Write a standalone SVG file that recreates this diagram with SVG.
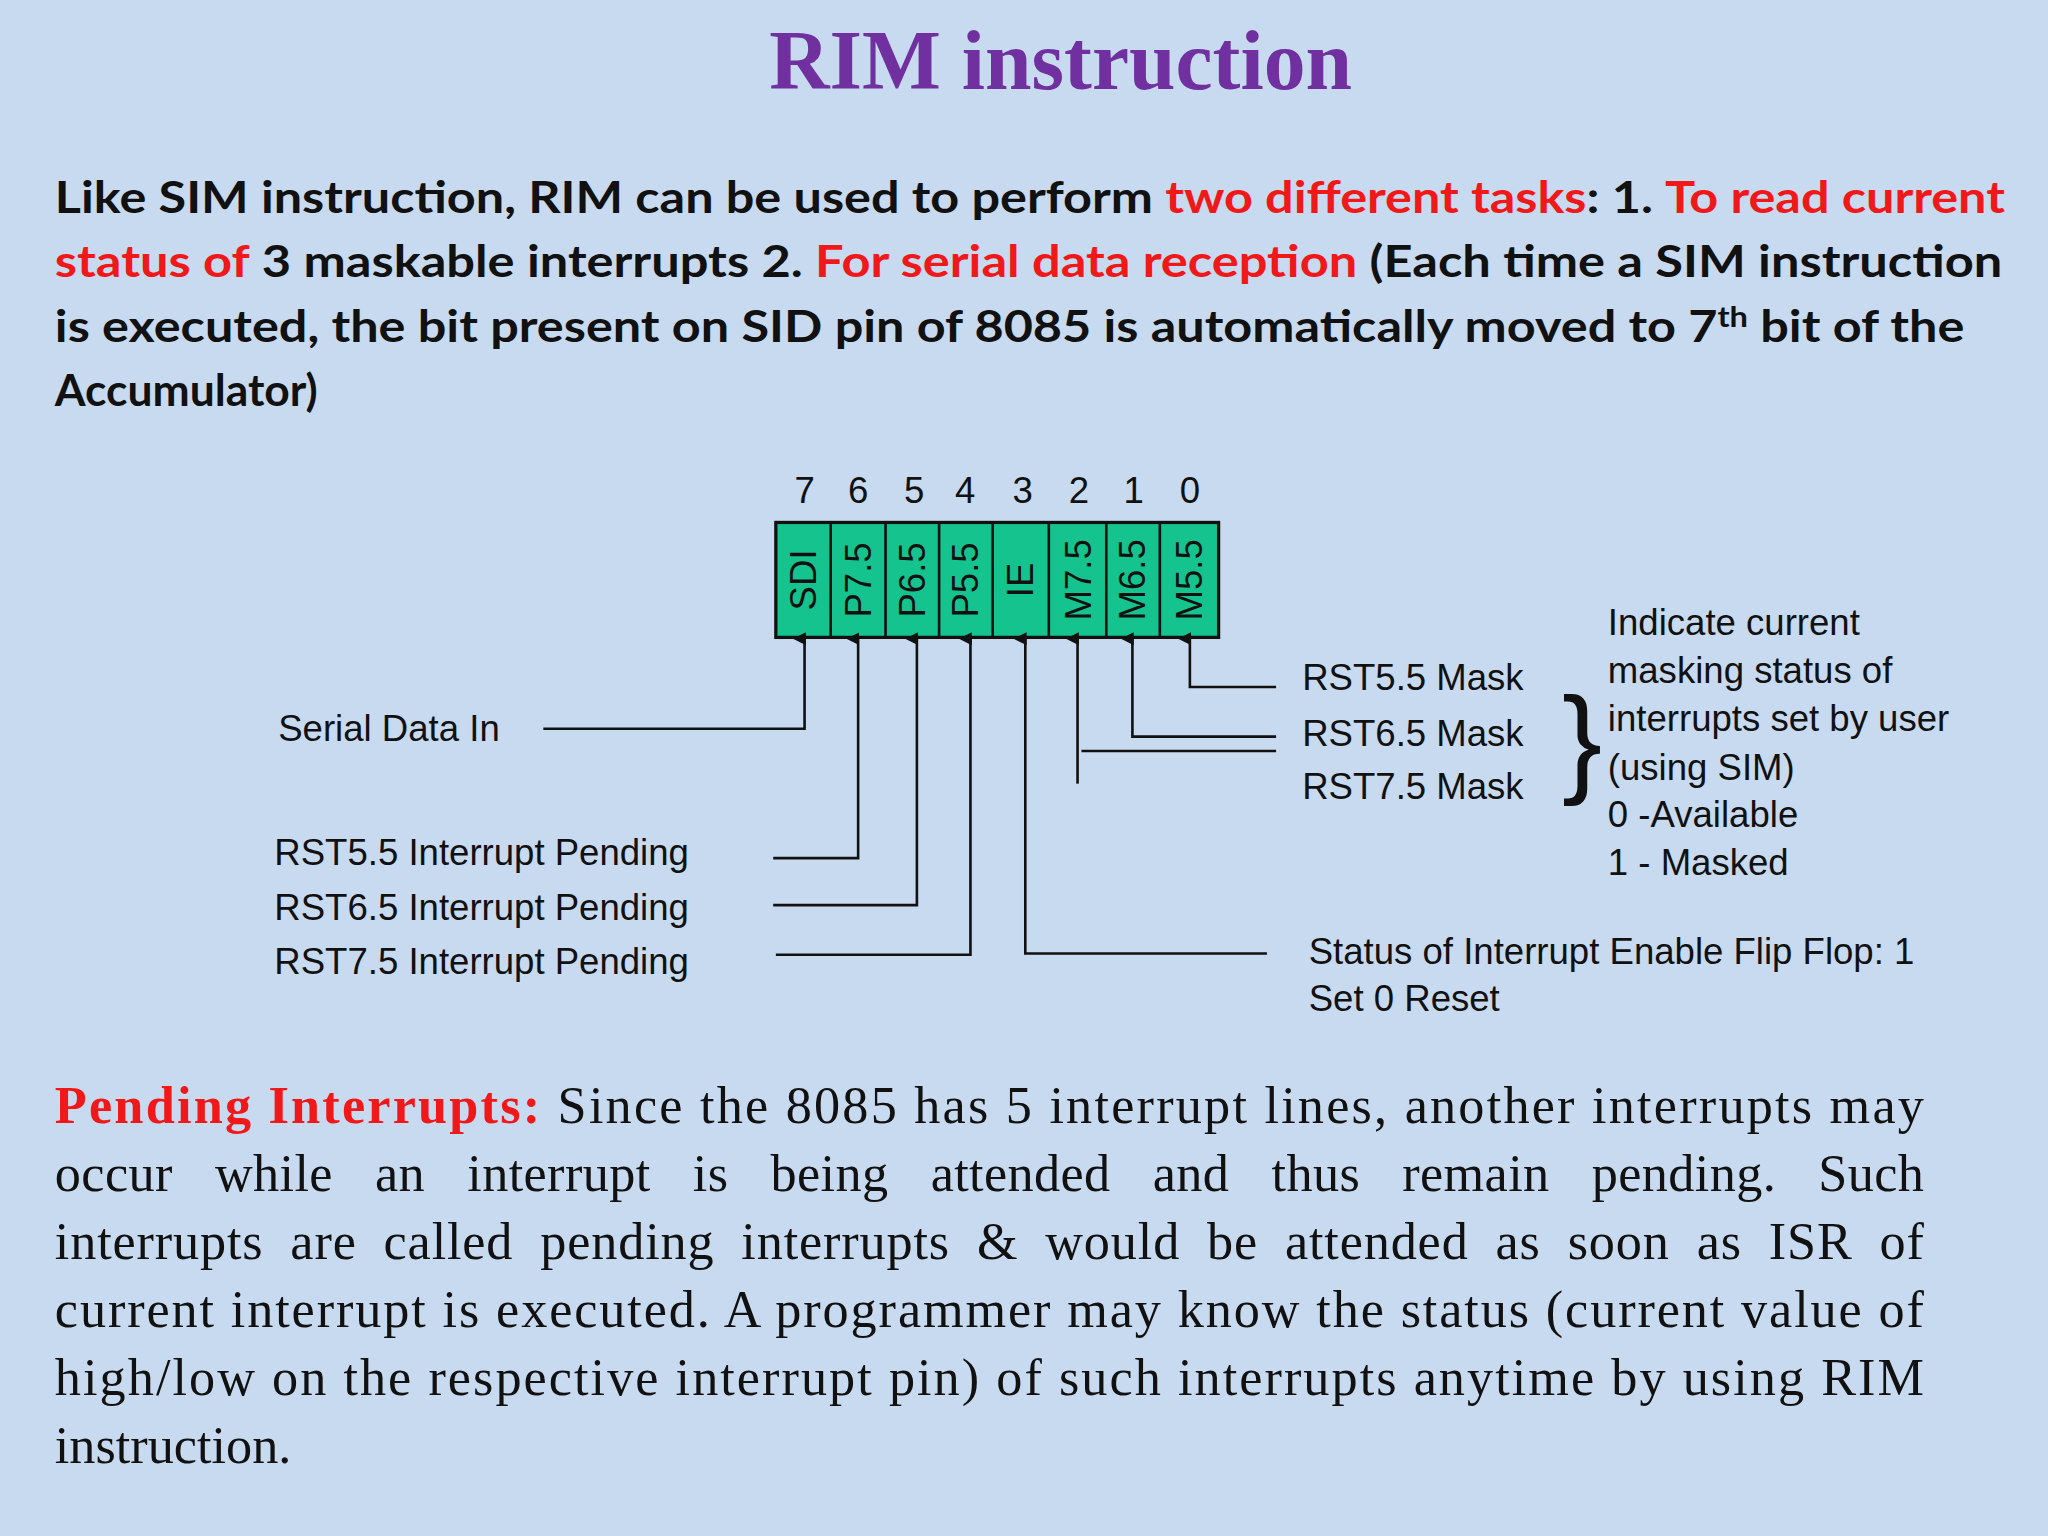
<svg xmlns="http://www.w3.org/2000/svg" width="2048" height="1536" viewBox="0 0 2048 1536">
<style>
.t{font-family:"Liberation Sans",Arial,sans-serif;font-size:28px;fill:#111}
.b{font-family:Lato,"Liberation Sans",sans-serif;font-weight:bold;font-size:34px;fill:#111}
.r{fill:#f01818}
.s{font-family:"Liberation Serif","Times New Roman",serif;font-size:40px;fill:#111}
.cell{fill:#14c38e;stroke:#111;stroke-width:2.5}
.ln{stroke:#111;stroke-width:2;fill:none}
</style>
<defs><marker id="ah" markerWidth="10" markerHeight="10" refX="5" refY="9" orient="auto-start-reverse" markerUnits="userSpaceOnUse" viewBox="0 0 10 10"><path d="M0,10 L5,0 L10,10 Z" fill="#111"/></marker></defs>
<rect width="2048" height="1536" fill="#c8daf0"/>
<g transform="scale(1.30612)">
<text x="812" y="68" text-anchor="middle" font-family="Liberation Serif,serif" font-weight="bold" font-size="64" fill="#7030a0">RIM instruction</text>
<g id="intro">
<text class="b" x="42" y="163" textLength="1493" lengthAdjust="spacingAndGlyphs">Like SIM instruction, RIM can be used to perform <tspan class="r">two different tasks</tspan>: 1. <tspan class="r">To read current</tspan></text>
<text class="b" x="42" y="212" textLength="1491" lengthAdjust="spacingAndGlyphs"><tspan class="r">status of</tspan> 3 maskable interrupts 2. <tspan class="r">For serial data reception</tspan> (Each time a SIM instruction</text>
<text class="b" x="42" y="262" textLength="1462" lengthAdjust="spacingAndGlyphs">is executed, the bit present on SID pin of 8085 is automatically moved to 7<tspan font-size="22" dy="-12">th</tspan><tspan dy="12"> bit of the</tspan></text>
<text class="b" x="42" y="311">Accumulator)</text>
</g>
<g id="register">
<g class="t" text-anchor="middle"><text x="616" y="385">7</text><text x="657" y="385">6</text><text x="700" y="385">5</text><text x="739" y="385">4</text><text x="783" y="385">3</text><text x="826" y="385">2</text><text x="868" y="385">1</text><text x="911" y="385">0</text></g>
<rect class="cell" x="594" y="400" width="339" height="88"/>
<g class="ln"><path d="M636 400V488M678 400V488M719 400V488M760 400V488M803 400V488M847 400V488M888 400V488"/></g>
<g class="t">
<text transform="translate(625,444) rotate(-90)" text-anchor="middle">SDI</text>
<text transform="translate(667,444) rotate(-90)" text-anchor="middle">P7.5</text>
<text transform="translate(708,444) rotate(-90)" text-anchor="middle">P6.5</text>
<text transform="translate(749,444) rotate(-90)" text-anchor="middle">P5.5</text>
<text transform="translate(791,444) rotate(-90)" text-anchor="middle">IE</text>
<text transform="translate(835,444) rotate(-90)" text-anchor="middle">M7.5</text>
<text transform="translate(877,444) rotate(-90)" text-anchor="middle">M6.5</text>
<text transform="translate(920,444) rotate(-90)" text-anchor="middle">M5.5</text>
</g>
</g>
<g id="connectors" class="ln">
<path d="M416 558H616V489" marker-end="url(#ah)"/>
<path d="M592 657H657V489" marker-end="url(#ah)"/>
<path d="M592 693H702V489" marker-end="url(#ah)"/>
<path d="M594 731H743V489" marker-end="url(#ah)"/>
<path d="M970 730H785V489" marker-end="url(#ah)"/>
<path d="M825 600V489" marker-end="url(#ah)"/>
<path d="M828 575H977"/>
<path d="M977 564H867V489" marker-end="url(#ah)"/>
<path d="M977 526H911V489" marker-end="url(#ah)"/>
</g>
<g id="labels" class="t">
<text x="213" y="567">Serial Data In</text>
<text x="210" y="662">RST5.5 Interrupt Pending</text>
<text x="210" y="704">RST6.5 Interrupt Pending</text>
<text x="210" y="746">RST7.5 Interrupt Pending</text>
<text x="997" y="528">RST5.5 Mask</text>
<text x="997" y="571">RST6.5 Mask</text>
<text x="997" y="612">RST7.5 Mask</text>
<text x="1196" y="598" font-family="Liberation Sans,sans-serif" font-size="92" fill="#111">}</text>
<text x="1231" y="486">Indicate current</text>
<text x="1231" y="523">masking status  of</text>
<text x="1231" y="560">interrupts set by user</text>
<text x="1231" y="597">(using SIM)</text>
<text x="1231" y="633">0 -Available</text>
<text x="1231" y="670">1 - Masked</text>
<text x="1002" y="738">Status of Interrupt Enable  Flip Flop: 1</text>
<text x="1002" y="774">Set 0 Reset</text>
</g>
<g id="pending" class="s">
<text x="42" y="860" textLength="1431" lengthAdjust="spacing"><tspan class="r" font-weight="bold">Pending Interrupts:</tspan> Since the 8085 has 5 interrupt lines, another interrupts  may</text>
<text x="42" y="912" textLength="1431" lengthAdjust="spacing" word-spacing="22">occur while an interrupt is being attended and thus remain pending. Such</text>
<text x="42" y="964" textLength="1431" lengthAdjust="spacing" word-spacing="10">interrupts are called pending interrupts &amp; would be attended as soon as ISR of</text>
<text x="42" y="1016" textLength="1431" lengthAdjust="spacing">current interrupt is executed. A programmer may know the status (current value of</text>
<text x="42" y="1068" textLength="1431" lengthAdjust="spacing">high/low on the respective interrupt pin) of such interrupts anytime by using RIM</text>
<text x="42" y="1120">instruction.</text>
</g>
</g>
</svg>
